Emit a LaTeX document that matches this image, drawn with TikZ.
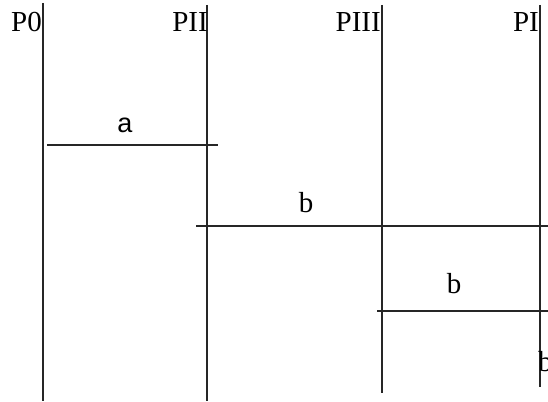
\documentclass[tikz,border=0pt]{standalone}
\usepackage{fontspec}
\newfontfamily\serifA{Liberation Serif}
\newfontfamily\sansA{Liberation Sans}
\begin{document}
\begin{tikzpicture}[x=1pt,y=-1pt,
  proc/.style={line width=1.7pt,draw=black!85},
  msg/.style={line width=1.7pt,draw=black!85},
  plabel/.style={inner sep=0pt,anchor=base east,font=\serifA\fontsize{29}{30}\selectfont},
  mlabel/.style={inner sep=0pt,anchor=base,font=\serifA\fontsize{29}{30}\selectfont},
  alabel/.style={inner sep=0pt,anchor=base,font=\sansA\fontsize{27}{30}\selectfont}]
\useasboundingbox (0,0) rectangle (548,401);
% process lines
\coordinate (p0t) at (43,3);   \coordinate (p0b) at (43,401);
\coordinate (p2t) at (207,5);  \coordinate (p2b) at (207,401);
\coordinate (p3t) at (382,5);  \coordinate (p3b) at (382,393);
\coordinate (p1t) at (540,5);  \coordinate (p1b) at (540,387);
\draw[proc] (p0t) -- (p0b);
\draw[proc] (p2t) -- (p2b);
\draw[proc] (p3t) -- (p3b);
\draw[proc] (p1t) -- (p1b);
% process labels
\node[plabel] (l0) at (42,32) {P0};
\node[plabel] (l2) at (208,32) {PII};
\node[plabel] (l3) at (381,32) {PIII};
\node[plabel] (l1) at (539,32) {PI};
% messages
\coordinate (a1) at (47,145);  \coordinate (a2) at (218,145);
\coordinate (b1) at (196,226); \coordinate (b2) at (548,226);
\coordinate (c1) at (377,311); \coordinate (c2) at (548,311);
\draw[msg] (a1) -- (a2);
\draw[msg] (b1) -- (b2);
\draw[msg] (c1) -- (c2);
\node[alabel] (la) at (125,132) {a};
\node[mlabel] (lb) at (306,212) {b};
\node[mlabel] (lc) at (454,293) {b};
\node[mlabel,anchor=base west] (ld) at (538,371) {b};
\end{tikzpicture}
\end{document}
